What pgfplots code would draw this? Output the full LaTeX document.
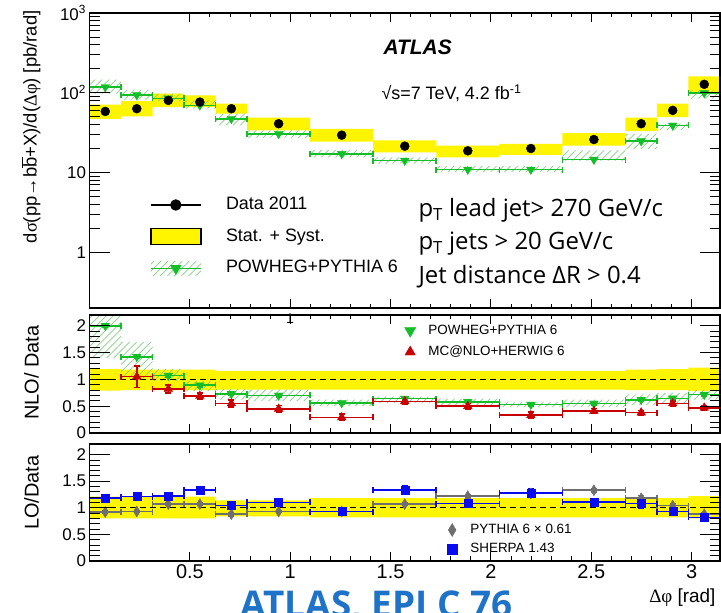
\documentclass[border=0pt]{standalone}
\usepackage{fontspec}
\setmainfont{Liberation Sans}
\newfontfamily\symfont{Liberation Serif}
\newfontfamily\osans{Open Sans}
\usepackage{pgfplots}
\pgfplotsset{compat=1.18}
\usepackage{pgfplotstable}
\usetikzlibrary{patterns.meta}

\definecolor{bandyellow}{RGB}{255,245,0}
\definecolor{powgreen}{RGB}{20,190,40}
\definecolor{hatchgreen}{RGB}{130,210,130}
\definecolor{mcred}{RGB}{200,0,0}
\definecolor{shblue}{RGB}{10,10,240}
\definecolor{pygray}{RGB}{110,110,110}
\definecolor{epjblue}{RGB}{30,115,200}

% cross section: bin centres, half widths, data and POWHEG+PYTHIA 6
\pgfplotstableread{
x        xe       d      p
0.07854  0.07854  58.3   118
0.23562  0.07854  63.1   93.5
0.39270  0.07854  80.2   85.1
0.54978  0.07854  76.4   69.5
0.70686  0.07854  63.1   47.2
0.94248  0.15708  40.9   30.6
1.25664  0.15708  29.4   17.1
1.57080  0.15708  21.4   14.1
1.88496  0.15708  18.7   10.9
2.19911  0.15708  20.0   10.9
2.51327  0.15708  25.9   14.5
2.74889  0.07854  40.9   24.7
2.90597  0.07854  60.1   38.9
3.06305  0.07854  127.6  99.1
}\xspts

% NLO / data
\pgfplotstableread{
x        xe       pw    pwe   mc    mce
0.07854  0.07854  2.00  0.03  nan   nan
0.23562  0.07854  1.42  0.03  1.05  0.20
0.39270  0.07854  1.07  0.03  0.82  0.07
0.54978  0.07854  0.89  0.03  0.69  0.06
0.70686  0.07854  0.73  0.03  0.55  0.06
0.94248  0.15708  0.70  0.03  0.45  0.06
1.25664  0.15708  0.56  0.03  0.29  0.06
1.57080  0.15708  0.64  0.03  0.59  0.05
1.88496  0.15708  0.58  0.03  0.50  0.05
2.19911  0.15708  0.53  0.03  0.33  0.06
2.51327  0.15708  0.55  0.03  0.41  0.05
2.74889  0.07854  0.62  0.03  0.38  0.04
2.90597  0.07854  0.645 0.03  0.55  0.05
3.06305  0.07854  0.715 0.03  0.47  0.04
}\nloratio

% LO / data
\pgfplotstableread{
x        xe       py    pye   sh    she
0.07854  0.07854  0.92  0.02  1.19  0.06
0.23562  0.07854  0.93  0.02  1.21  0.06
0.39270  0.07854  1.07  0.03  1.22  0.06
0.54978  0.07854  1.07  0.03  1.33  0.06
0.70686  0.07854  0.88  0.03  1.04  0.07
0.94248  0.15708  0.93  0.02  1.10  0.06
1.25664  0.15708  0.93  0.02  0.93  0.04
1.57080  0.15708  1.07  0.02  1.34  0.08
1.88496  0.15708  1.22  0.03  1.08  0.06
2.19911  0.15708  1.27  0.03  1.28  0.08
2.51327  0.15708  1.33  0.03  1.11  0.06
2.74889  0.07854  1.18  0.05  1.08  0.08
2.90597  0.07854  1.04  0.04  0.93  0.06
3.06305  0.07854  0.88  0.03  0.82  0.05
}\loratio

\tikzset{hatch/.style={pattern={Lines[angle=45,distance=5bp,line width=0.7bp]},
    pattern color=hatchgreen, draw=none}}

\pgfplotsset{
  frame/.style={
    scale only axis, width=630.5bp, xmin=0, xmax=3.14159,
    axis line style={line width=1.2bp},
    tick align=inside, tick style={line width=0.9bp, black},
    /pgf/number format/assume math mode=true,
  },
  % plotting panel: short x ticks, y ticks drawn by the yaxis overlay
  panel/.style={frame, axis on top,
    major tick length=9bp, minor tick length=4.5bp,
    xtick={0.5,1,1.5,2,2.5,3}, minor x tick num=4,
    ytick=\empty, minor y tick num=0,
    xticklabel style={font=\fontsize{20}{20}\selectfont},
  },
  % long y ticks with their labels
  yaxis/.style={frame, hide x axis,
    major tick length=20bp, minor tick length=10bp,
    yticklabel style={font=\fontsize{17}{17}\selectfont},
  },
  ratioy/.style={ymin=0, ymax=2.2, ytick={0,0.5,1,1.5,2}, minor y tick num=4},
  binbars/.style={only marks, error bars/.cd, x dir=both, x explicit, y dir=both, y explicit,
    error bar style={line width=1.6bp, #1},
    error mark options={rotate=90, #1, line width=1.6bp, mark size=3bp}},
  xbars/.style={only marks, error bars/.cd, x dir=both, x explicit,
    error bar style={line width=1.6bp, #1},
    error mark options={rotate=90, #1, line width=1.6bp, mark size=3bp}},
}

\begin{document}
\begin{tikzpicture}
\useasboundingbox (0,0) rectangle (721bp,613bp);

% ---------- cross section ----------
\begin{axis}[panel, ymode=log, height=295bp, ymin=0.2, ymax=1000,
  at={(89.5bp,600bp)}, anchor=north west, xticklabels={},
  legend style={at={(0.096,0.378)}, anchor=north west, draw=none, fill=none,
    inner sep=0pt, outer sep=0pt, row sep=14.5bp, font=\fontsize{18}{18}\selectfont,
    nodes={inner sep=0pt, text height=13bp, text depth=4bp}},
  legend cell align=left]
% stat. + syst. band of the data
\addplot[fill=bandyellow, draw=none, forget plot] coordinates {
 (0,70.8)(0.15708,70.8)(0.15708,78.6)(0.31416,78.6)(0.31416,97.4)(0.47124,97.4)
 (0.47124,92.7)(0.62832,92.7)(0.62832,72.9)(0.78540,72.9)(0.78540,48.6)(1.09956,48.6)
 (1.09956,35.3)(1.41372,35.3)(1.41372,25.2)(1.72788,25.2)(1.72788,21.8)(2.04204,21.8)
 (2.04204,22.9)(2.35619,22.9)(2.35619,31.1)(2.67035,31.1)(2.67035,48.6)(2.82743,48.6)
 (2.82743,72.9)(2.98451,72.9)(2.98451,160.8)(3.14159,160.8)
 (3.14159,102)(2.98451,102)(2.98451,49.5)(2.82743,49.5)(2.82743,33.0)(2.67035,33.0)
 (2.67035,21.8)(2.35619,21.8)(2.35619,16.6)(2.04204,16.6)(2.04204,15.5)(1.72788,15.5)
 (1.72788,17.9)(1.41372,17.9)(1.41372,24.3)(1.09956,24.3)(1.09956,33.7)(0.78540,33.7)
 (0.78540,54.6)(0.62832,54.6)(0.62832,66.1)(0.47124,66.1)(0.47124,66.1)(0.31416,66.1)
 (0.31416,50.5)(0.15708,50.5)(0.15708,47.2)(0,47.2)} -- cycle;
% POWHEG+PYTHIA 6 uncertainty
\addplot[hatch, forget plot] coordinates {
 (0,146)(0.15708,146)(0.15708,109)(0.31416,109)(0.31416,97.4)(0.47124,97.4)
 (0.47124,80.2)(0.62832,80.2)(0.62832,54.6)(0.78540,54.6)(0.78540,33.7)(1.09956,33.7)
 (1.09956,19.2)(1.41372,19.2)(1.41372,15.5)(1.72788,15.5)(1.72788,12.0)(2.04204,12.0)
 (2.04204,12.0)(2.35619,12.0)(2.35619,18.9)(2.67035,18.9)(2.67035,30.6)(2.82743,30.6)
 (2.82743,41.0)(2.98451,41.0)(2.98451,107)(3.14159,107)
 (3.14159,84.3)(2.98451,84.3)(2.98451,34.0)(2.82743,34.0)(2.82743,19.8)(2.67035,19.8)
 (2.67035,14.1)(2.35619,14.1)(2.35619,10.2)(2.04204,10.2)(2.04204,10.2)(1.72788,10.2)
 (1.72788,12.9)(1.41372,12.9)(1.41372,15.5)(1.09956,15.5)(1.09956,27.2)(0.78540,27.2)
 (0.78540,38.9)(0.62832,38.9)(0.62832,63.1)(0.47124,63.1)(0.47124,78.6)(0.31416,78.6)
 (0.31416,81.9)(0.15708,81.9)(0.15708,97.4)(0,97.4)} -- cycle;
\addplot[forget plot, powgreen, mark=triangle*, mark size=5bp, mark options={rotate=180},
  xbars=powgreen] table[x=x, y=p, x error=xe] {\xspts};
\addplot[forget plot, only marks, black, mark=*, mark size=4.5bp] table[x=x, y=d] {\xspts};

\addlegendimage{legend image code/.code={
  \draw[black, line width=1.4bp, mark=*, mark size=5bp, mark repeat=2, mark phase=2]
    plot coordinates {(0bp,0bp) (25bp,0bp) (50bp,0bp)};
  \path (75bp,0bp);}}
\addlegendentry{Data 2011}
\addlegendimage{legend image code/.code={
  \draw[fill=bandyellow, draw=black, line width=1.5bp] (0bp,-8bp) rectangle (50bp,8bp);
  \path (75bp,0bp);}}
\addlegendentry{Stat. + Syst.}
\addlegendimage{legend image code/.code={
  \fill[hatch] (0bp,-7bp) rectangle (50bp,7bp);
  \draw[powgreen, line width=1.6bp, mark=triangle*, mark size=5bp, mark options={rotate=180},
    mark repeat=2, mark phase=2] plot coordinates {(0bp,0bp) (25bp,0bp) (50bp,0bp)};
  \path (75bp,0bp);}}
\addlegendentry{POWHEG+PYTHIA 6}
\end{axis}
\begin{axis}[yaxis, ymode=log, height=295bp, ymin=0.2, ymax=1000,
  at={(89.5bp,600bp)}, anchor=north west,
  ytick={1,10,100,1000},
  yticklabels={1,10,10\textsuperscript{2},10\textsuperscript{3}}]
\end{axis}

% ---------- NLO / data ----------
\begin{axis}[panel, ymin=0, ymax=2.2, height=118bp, at={(89.5bp,298bp)}, anchor=north west,
  xticklabels={},
  legend style={at={(0.4988,0.922)}, anchor=north west, draw=none, fill=none,
    inner sep=0pt, outer sep=0pt, row sep=8.3bp, font=\fontsize{13.5}{13.5}\selectfont,
    nodes={inner sep=0pt, text height=10bp, text depth=3bp}},
  legend cell align=left]
\addplot[fill=bandyellow, draw=none, forget plot] coordinates {
 (0,1.19)(0.15708,1.19)(0.15708,1.18)(0.62832,1.18)(0.62832,1.16)(2.67035,1.16)
 (2.67035,1.18)(2.82743,1.18)(2.82743,1.19)(2.98451,1.19)(2.98451,1.22)(3.14159,1.22)
 (3.14159,0.78)(2.98451,0.78)(2.98451,0.80)(2.67035,0.80)(2.67035,0.81)(0.62832,0.81)
 (0.62832,0.80)(0.15708,0.80)(0.15708,0.79)(0,0.79)} -- cycle;
\addplot[hatch, forget plot] coordinates {
 (0,2.40)(0.15708,2.40)(0.15708,1.70)(0.31416,1.70)(0.31416,1.19)(0.47124,1.19)
 (0.47124,0.97)(0.62832,0.97)(0.62832,0.82)(0.78540,0.82)(0.78540,0.81)(1.09956,0.81)
 (1.09956,0.62)(1.41372,0.62)(1.41372,0.68)(1.72788,0.68)(1.72788,0.64)(2.04204,0.64)
 (2.04204,0.58)(2.35619,0.58)(2.35619,0.62)(2.67035,0.62)(2.67035,0.72)(2.82743,0.72)
 (2.82743,0.75)(2.98451,0.75)(2.98451,0.80)(3.14159,0.80)
 (3.14159,0.62)(2.98451,0.62)(2.98451,0.56)(2.82743,0.56)(2.82743,0.52)(2.67035,0.52)
 (2.67035,0.48)(2.35619,0.48)(2.35619,0.48)(2.04204,0.48)(2.04204,0.52)(1.72788,0.52)
 (1.72788,0.56)(1.41372,0.56)(1.41372,0.50)(1.09956,0.50)(1.09956,0.60)(0.78540,0.60)
 (0.78540,0.62)(0.62832,0.62)(0.62832,0.78)(0.47124,0.78)(0.47124,0.97)(0.31416,0.97)
 (0.31416,1.03)(0.15708,1.03)(0.15708,1.40)(0,1.40)} -- cycle;
\addplot[forget plot, black, line width=1bp, dash pattern=on 6bp off 4bp] coordinates {(0,1) (3.14159,1)};
\addplot[forget plot, powgreen, mark=triangle*, mark size=5bp, mark options={rotate=180},
  binbars=powgreen] table[x=x, y=pw, x error=xe, y error=pwe] {\nloratio};
\addplot[forget plot, mcred, mark=triangle*, mark size=5bp,
  binbars=mcred] table[x=x, y=mc, x error=xe, y error=mce] {\nloratio};

\addlegendimage{legend image code/.code={
  \path (-6bp,0bp) (18bp,0bp);
  \draw[powgreen, only marks, mark=triangle*, mark size=6.5bp, mark options={rotate=180}]
    plot coordinates {(0bp,0bp)};}}
\addlegendentry{POWHEG+PYTHIA 6}
\addlegendimage{legend image code/.code={
  \path (-6bp,0bp) (18bp,0bp);
  \draw[mcred, only marks, mark=triangle*, mark size=6bp] plot coordinates {(0bp,0bp)};}}
\addlegendentry{MC@NLO+HERWIG 6}
\end{axis}
\begin{axis}[yaxis, ratioy, height=118bp, at={(89.5bp,298bp)}, anchor=north west]
\end{axis}

% ---------- LO / data ----------
\begin{axis}[panel, ymin=0, ymax=2.2, height=117bp, at={(89.5bp,169bp)}, anchor=north west,
  legend style={at={(0.5654,0.3205)}, anchor=north west, draw=none, fill=none,
    inner sep=0pt, outer sep=0pt, row sep=6.5bp, font=\fontsize{13.5}{13.5}\selectfont,
    nodes={inner sep=0pt, text height=10bp, text depth=3bp}},
  legend cell align=left]
\addplot[fill=bandyellow, draw=none, forget plot] coordinates {
 (0,1.21)(0.62832,1.21)(0.62832,1.14)(1.09956,1.14)(1.09956,1.18)(2.98451,1.18)
 (2.98451,1.22)(3.14159,1.22)
 (3.14159,0.80)(2.98451,0.80)(2.98451,0.82)(1.09956,0.82)(1.09956,0.84)(0.62832,0.84)
 (0.62832,0.80)(0,0.80)} -- cycle;
\addplot[forget plot, black, line width=1bp, dash pattern=on 6bp off 4bp] coordinates {(0,1) (3.14159,1)};
\addplot[forget plot, pygray, mark=diamond*, mark size=5.5bp, mark options={xscale=0.8},
  binbars=pygray] table[x=x, y=py, x error=xe, y error=pye] {\loratio};
\addplot[forget plot, shblue, mark=square*, mark size=4bp,
  binbars=shblue] table[x=x, y=sh, x error=xe, y error=she] {\loratio};

\addlegendimage{legend image code/.code={
  \path (-6bp,0bp) (18bp,0bp);
  \draw[pygray, only marks, mark=diamond*, mark size=6.5bp, mark options={xscale=0.8}]
    plot coordinates {(0bp,0bp)};}}
\addlegendentry{PYTHIA 6 × 0.61}
\addlegendimage{legend image code/.code={
  \path (-6bp,0bp) (18bp,0bp);
  \draw[shblue, only marks, mark=square*, mark size=4.8bp] plot coordinates {(0bp,0bp)};}}
\addlegendentry{SHERPA 1.43}
\end{axis}
\begin{axis}[yaxis, ratioy, height=117bp, at={(89.5bp,169bp)}, anchor=north west]
\end{axis}

% ---------- titles and labels ----------
\node[rotate=90, anchor=east, font=\fontsize{18.5}{18.5}\selectfont] at (31bp,606bp)
  {d{\symfont σ}(pp{\symfont →}b\ensuremath{\overline{\mbox{b}}}+X)/d({\symfont Δφ}) [pb/rad]};
\node[rotate=90, anchor=east, font=\fontsize{20}{20}\selectfont] at (31.5bp,291bp) {NLO/ Data};
\node[rotate=90, anchor=east, font=\fontsize{20}{20}\selectfont] at (31.5bp,161bp) {LO/Data};
\node[anchor=east, font=\fontsize{19}{19}\selectfont] at (719bp,15bp) {{\symfont Δφ} [rad]};
\node[font=\fontsize{14}{14}\selectfont] at (290bp,294bp) {1};

\node[anchor=base west, font=\fontsize{21}{21}\selectfont\bfseries\itshape] at (380bp,558bp) {ATLAS};
\node[anchor=base west, font=\fontsize{18}{18}\selectfont] at (378bp,513bp)
  {√s=7 TeV, 4.2 fb\textsuperscript{-1}};

\node[anchor=base west, font=\osans\fontsize{24}{24}\selectfont] at (415bp,396.3bp)
  {p\textsubscript{T} lead jet> 270 GeV/c};
\node[anchor=base west, font=\osans\fontsize{24}{24}\selectfont] at (415bp,363bp)
  {p\textsubscript{T} jets > 20 GeV/c};
\node[anchor=base west, font=\osans\fontsize{24}{24}\selectfont] at (415bp,329.7bp)
  {Jet distance ΔR > 0.4};

\node[anchor=base west, text=epjblue, font=\osans\bfseries\fontsize{37}{37}\selectfont]
  at (237bp,-4bp) {ATLAS, EPJ C 76};
\end{tikzpicture}
\end{document}
